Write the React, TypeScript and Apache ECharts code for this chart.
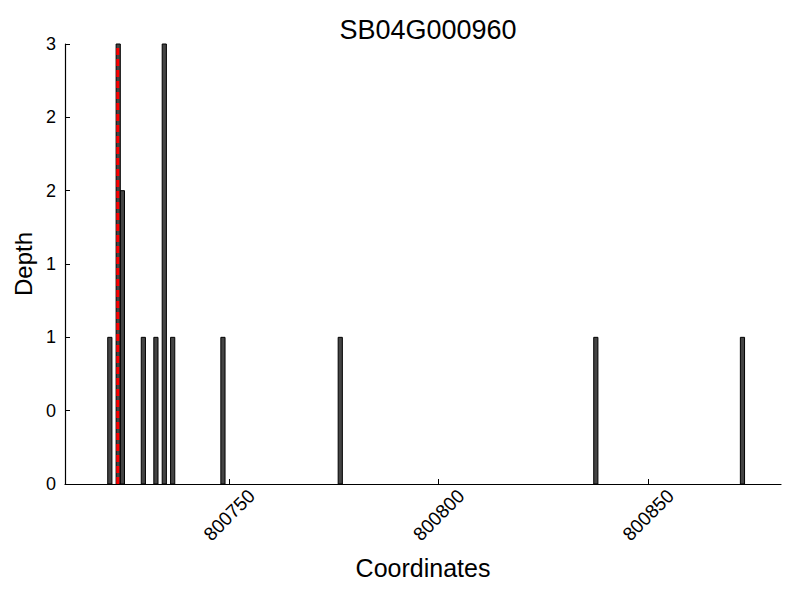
import React, { useEffect, useRef } from "react";
import * as echarts from "echarts";

const TITLE = "SB04G000960";
const X_NAME = "Coordinates";
const Y_NAME = "Depth";
// bar left edges (each bar is 1 coordinate wide)
const positions = [800721, 800723, 800724, 800729, 800732, 800734, 800736, 800748, 800776, 800837, 800872];
const depths = [1, 3, 2, 1, 1, 3, 1, 1, 1, 1, 1];
const BAR_WIDTH = 1;
const MARKER = 800723.4;
const X_MIN = 800710.8;
const X_MAX = 800881.7;
const xTicks = [800750, 800800, 800850];

const FONT = "Liberation Sans, Arial, sans-serif";

export default function App() {
  const ref = useRef<HTMLDivElement>(null);
  useEffect(() => {
    if (!ref.current) return;
    const chart = echarts.init(ref.current, null, { renderer: "svg" });
    const data = positions.map((p, i) => [p, depths[i]]);
    chart.setOption({
      animation: false,
      backgroundColor: "#ffffff",
      title: {
        text: TITLE,
        left: 423,
        textAlign: "center",
        top: 11,
        textStyle: { fontFamily: FONT, fontSize: 27, fontWeight: "normal", color: "#000" },
      },
      grid: { left: 65, right: 19, top: 44, bottom: 116, containLabel: false },
      xAxis: {
        type: "value",
        min: X_MIN,
        max: X_MAX,
        name: X_NAME,
        nameLocation: "middle",
        nameGap: 71,
        nameTextStyle: { fontFamily: FONT, fontSize: 25, color: "#000" },
        axisLine: { show: true, lineStyle: { color: "#000", width: 1.2 } },
        axisTick: { show: true, inside: true, length: 5, customValues: xTicks, lineStyle: { color: "#000" } },
        axisLabel: {
          customValues: xTicks,
          rotate: 45,
          align: "center",
          verticalAlign: "middle",
          margin: 31,
          fontFamily: FONT,
          fontSize: 19,
          color: "#000",
          formatter: (v: number) => String(Math.round(v)),
        },
        splitLine: { show: false },
      },
      yAxis: {
        type: "value",
        min: 0,
        max: 3,
        interval: 0.5,
        name: Y_NAME,
        nameLocation: "middle",
        nameGap: 28,
        nameTextStyle: { fontFamily: FONT, fontSize: 24, color: "#000" },
        axisLine: { show: true, lineStyle: { color: "#000", width: 1.2 } },
        axisTick: { show: true, inside: true, length: 5, lineStyle: { color: "#000" } },
        axisLabel: {
          margin: 9,
          fontFamily: FONT,
          fontSize: 18,
          color: "#000",
          formatter: (v: number) => String(Math.trunc(v)),
        },
        splitLine: { show: false },
      },
      series: [
        {
          type: "custom",
          data,
          renderItem: (params: any, api: any) => {
            const x = api.value(0);
            const y = api.value(1);
            const p0 = api.coord([x, 0]);
            const p1 = api.coord([x + BAR_WIDTH, y]);
            return {
              type: "rect",
              shape: { x: p0[0], y: p1[1], width: p1[0] - p0[0], height: p0[1] - p1[1] },
              style: { fill: "#444444", stroke: "#000000", lineWidth: 1 },
            };
          },
          encode: { x: 0, y: 1 },
          z: 2,
        },
        {
          type: "line",
          data: [
            [MARKER, 0],
            [MARKER, 3],
          ],
          symbol: "none",
          lineStyle: { color: "#ff0000", width: 3, type: [7, 4] },
          z: 3,
        },
      ],
    });
    return () => chart.dispose();
  }, []);
  return <div ref={ref} style={{ width: 800, height: 600, position: "absolute", left: 0, top: 0 }} />;
}
